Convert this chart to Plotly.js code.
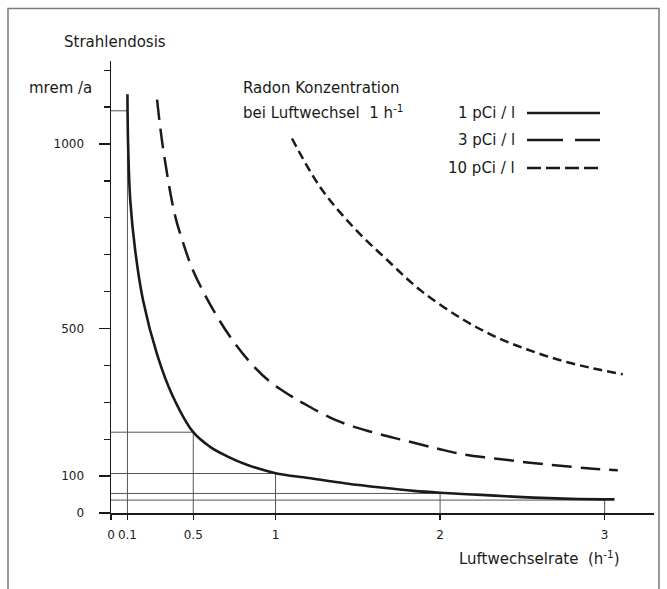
<!DOCTYPE html>
<html>
<head>
<meta charset="utf-8">
<script src="https://cdn.plot.ly/plotly-3.0.1.min.js"></script>
<style>html,body{margin:0;padding:0;background:#fff;}#chart{width:667px;height:589px;}</style>
</head>
<body>
<div id="chart"></div>
<script>
// ---- data ----
const seriesNames = ['1 pCi / l', '3 pCi / l', '10 pCi / l'];

const c1x = [0.1, 0.104, 0.117, 0.147, 0.195, 0.28, 0.372, 0.5, 0.6, 0.7, 0.83, 1.0, 1.2, 1.43, 1.64, 1.84, 2.0, 2.25, 2.5, 2.75, 3.0, 3.06];
const c1y = [1135, 1000, 848, 712, 576, 430, 320, 219, 180, 155, 130, 108, 95, 80, 69, 60, 55, 49, 43, 39, 37, 37];

const c2x = [0.28, 0.315, 0.386, 0.44, 0.498, 0.603, 0.725, 0.866, 0.968, 1.09, 1.17, 1.37, 1.58, 1.78, 1.98, 2.15, 2.33, 2.53, 2.73, 2.93, 3.08];
const c2y = [1120, 993, 812, 730, 658, 565, 477, 398, 355, 318, 297, 251, 220, 197, 175, 158, 148, 137, 128, 120, 116];

const c3x = [1.1, 1.27, 1.47, 1.68, 1.88, 2.13, 2.33, 2.53, 2.73, 2.93, 3.11];
const c3y = [1015, 884, 776, 685, 604, 527, 479, 443, 414, 392, 376];

// reading lines (Luftwechsel -> Dosis for 1 pCi/l)
const markX = [0.1, 0.5, 1, 2, 3];
const markY = [1090, 219, 107, 53, 35];

const xTickVals = [0, 0.1, 0.5, 1, 2, 3];
const xTickText = ['0', '0.1', '0.5', '1', '2', '3'];
const yTickVals = [0, 100, 500, 1000];
const yTickText = ['0', '100', '500', '1000'];

// ---- layout helpers ----
const FONT = 'DejaVu Sans, Verdana, sans-serif';
const INK = '#1a1a1a';
const L = 111, R = 13, T = 61, B = 76, WIDTH = 667, HEIGHT = 589;
const PW = WIDTH - L - R, PH = HEIGHT - T - B;
const fx = p => (p - L) / PW;
const fy = p => (HEIGHT - B - p) / PH;

// drop lines built from the reading points
const dropX = [], dropY = [];
markX.forEach((x, i) => {
  dropX.push(0, x, x, null);
  dropY.push(markY[i], markY[i], 0, null);
});

const traces = [
  {x: dropX, y: dropY, mode: 'lines', line: {color: '#555', width: 1}, hoverinfo: 'skip', showlegend: false},
  {x: c1x, y: c1y, name: seriesNames[0], mode: 'lines', line: {color: INK, width: 2.6, shape: 'spline', smoothing: 1}, showlegend: false},
  {x: c2x, y: c2y, name: seriesNames[1], mode: 'lines', line: {color: INK, width: 2.5, dash: '20px,9px', shape: 'spline', smoothing: 1}, showlegend: false},
  {x: c3x, y: c3y, name: seriesNames[2], mode: 'lines', line: {color: INK, width: 2.5, dash: '9px,5px', shape: 'spline', smoothing: 1}, showlegend: false}
];

const txt = (text, x, y, anchor, size) => ({
  text: text, x: x, y: y, xref: 'paper', yref: 'paper', xanchor: anchor || 'left', yanchor: 'middle',
  showarrow: false, font: {family: FONT, size: size || 15, color: INK}
});

const legendY = [113, 140, 168];
const legendDash = ['solid', '36px,12px', '14px,5px'];

const annotations = [
  txt('Strahlendosis', fx(62), fy(42)),
  txt('mrem /a', fx(27), fy(88)),
  txt('Radon Konzentration', fx(241), fy(88)),
  txt('bei Luftwechsel\u00a0\u00a01 h<sup>-1</sup>', fx(241), fy(112)),
  txt('Luftwechselrate\u00a0\u00a0(h<sup>-1</sup>)', fx(457), fy(558))
];
seriesNames.forEach((n, i) => annotations.push(txt(n, fx(517), fy(legendY[i]), 'right')));

const shapes = [
  {type: 'rect', xref: 'paper', yref: 'paper', x0: fx(8), x1: fx(659), y0: fy(8.5), y1: fy(640),
   line: {color: '#7a7a7a', width: 1.5}, fillcolor: 'rgba(0,0,0,0)', layer: 'above'}
];
seriesNames.forEach((n, i) => shapes.push({
  type: 'line', xref: 'paper', yref: 'paper', x0: fx(527), x1: fx(600), y0: fy(legendY[i]), y1: fy(legendY[i]),
  line: {color: INK, width: 2.6, dash: legendDash[i]}
}));

const layout = {
  width: WIDTH, height: HEIGHT,
  margin: {l: L, r: R, t: T, b: B, pad: 0},
  paper_bgcolor: '#fff', plot_bgcolor: '#fff',
  showlegend: false,
  font: {family: FONT, color: INK},
  xaxis: {
    range: [0, 3.3], showgrid: false, zeroline: false,
    showline: true, linecolor: INK, linewidth: 1.5,
    tickmode: 'array', tickvals: xTickVals, ticktext: xTickText,
    ticks: 'outside', ticklen: 5, tickwidth: 1.2, tickcolor: INK,
    ticklabelstandoff: 5,
    tickfont: {family: FONT, size: 12, color: INK}, fixedrange: true
  },
  yaxis: {
    range: [0, 1225], showgrid: false, zeroline: false,
    showline: true, linecolor: INK, linewidth: 1.5,
    tickmode: 'array', tickvals: yTickVals, ticktext: yTickText,
    ticks: 'outside', ticklen: 11, tickwidth: 1.3, tickcolor: INK,
    ticklabelstandoff: 12,
    minor: {tickmode: 'linear', tick0: 0, dtick: 100, ticks: 'outside', ticklen: 6, tickwidth: 1.3, tickcolor: INK, showgrid: false},
    tickfont: {family: FONT, size: 12, color: INK}, fixedrange: true
  },
  annotations: annotations,
  shapes: shapes
};

Plotly.newPlot('chart', traces, layout, {displayModeBar: false, staticPlot: true});
</script>
</body>
</html>
